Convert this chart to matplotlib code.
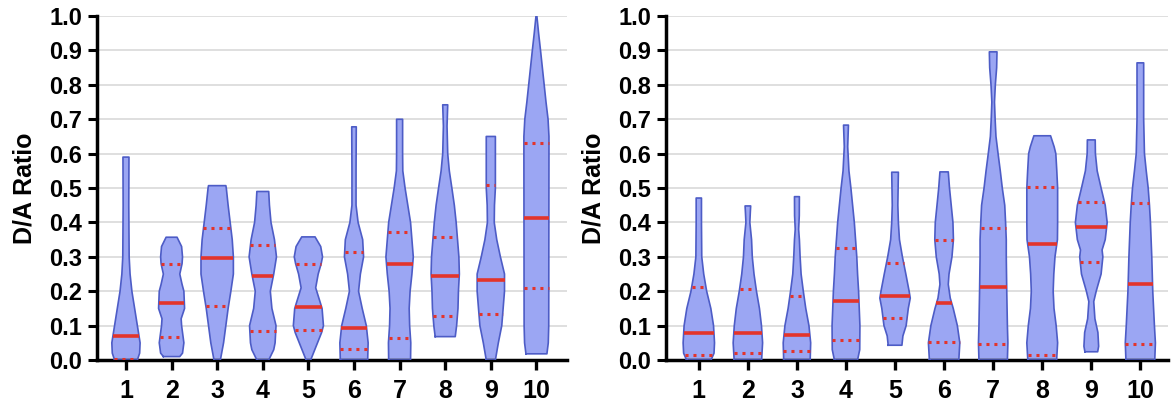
import matplotlib.pyplot as plt
import numpy as np

groups = [1, 2, 3, 4, 5, 6, 7, 8, 9, 10]

# violin outlines: (y, half width) from bottom to top
left_shapes = [
    [(0.0, 0.25), (0.02, 0.30), (0.05, 0.31), (0.1, 0.25), (0.15, 0.19), (0.2, 0.13),
     (0.25, 0.09), (0.3, 0.07), (0.45, 0.062), (0.59, 0.066)],
    [(0.01, 0.18), (0.02, 0.24), (0.05, 0.27), (0.1, 0.22), (0.12, 0.21), (0.15, 0.285),
     (0.2, 0.27), (0.22, 0.23), (0.25, 0.18), (0.28, 0.23), (0.3, 0.24), (0.33, 0.22),
     (0.357, 0.12)],
    [(0.0, 0.07), (0.05, 0.14), (0.1, 0.19), (0.15, 0.24), (0.2, 0.30), (0.25, 0.355),
     (0.3, 0.355), (0.35, 0.33), (0.4, 0.285), (0.45, 0.24), (0.5, 0.2), (0.507, 0.19)],
    [(0.0, 0.13), (0.03, 0.24), (0.05, 0.27), (0.1, 0.29), (0.15, 0.2), (0.2, 0.165),
     (0.25, 0.24), (0.3, 0.30), (0.35, 0.256), (0.4, 0.18), (0.45, 0.146), (0.49, 0.13)],
    [(0.0, 0.05), (0.02, 0.11), (0.05, 0.2), (0.08, 0.29), (0.1, 0.33), (0.15, 0.30),
     (0.18, 0.23), (0.21, 0.16), (0.25, 0.215), (0.28, 0.28), (0.3, 0.31), (0.33, 0.27),
     (0.358, 0.146)],
    [(0.0, 0.30), (0.05, 0.31), (0.1, 0.27), (0.15, 0.18), (0.2, 0.10), (0.25, 0.14),
     (0.3, 0.21), (0.35, 0.19), (0.4, 0.09), (0.45, 0.045), (0.55, 0.045), (0.678, 0.05)],
    [(0.0, 0.24), (0.05, 0.245), (0.1, 0.22), (0.15, 0.21), (0.2, 0.23), (0.25, 0.27),
     (0.3, 0.30), (0.35, 0.27), (0.4, 0.24), (0.45, 0.18), (0.5, 0.12), (0.55, 0.07),
     (0.6, 0.066), (0.70, 0.066)],
    [(0.068, 0.22), (0.1, 0.25), (0.15, 0.28), (0.2, 0.29), (0.25, 0.31), (0.3, 0.30),
     (0.35, 0.27), (0.4, 0.24), (0.45, 0.2), (0.5, 0.146), (0.55, 0.09), (0.6, 0.055),
     (0.68, 0.04), (0.742, 0.055)],
    [(0.0, 0.10), (0.05, 0.165), (0.1, 0.24), (0.15, 0.27), (0.2, 0.30), (0.25, 0.30),
     (0.3, 0.21), (0.35, 0.13), (0.4, 0.075), (0.45, 0.08), (0.5, 0.1), (0.65, 0.10)],
    [(0.018, 0.23), (0.05, 0.26), (0.1, 0.27), (0.6, 0.275), (0.65, 0.275), (0.7, 0.255),
     (0.75, 0.21), (0.8, 0.17), (0.85, 0.13), (0.9, 0.09), (0.95, 0.048), (1.0, 0.01)],
]
left_median = [0.07, 0.167, 0.296, 0.244, 0.155, 0.093, 0.278, 0.244, 0.233, 0.412]
left_q1 = [0.003, 0.066, 0.157, 0.083, 0.087, 0.032, 0.063, 0.128, 0.133, 0.208]
left_q3 = [None, 0.279, 0.383, 0.334, 0.278, 0.315, 0.371, 0.358, 0.509, 0.632]

right_shapes = [
    [(0.0, 0.25), (0.02, 0.31), (0.05, 0.32), (0.1, 0.30), (0.15, 0.245), (0.2, 0.16),
     (0.25, 0.10), (0.3, 0.06), (0.4, 0.054), (0.471, 0.054)],
    [(0.0, 0.28), (0.05, 0.30), (0.1, 0.277), (0.15, 0.236), (0.2, 0.175), (0.25, 0.125),
     (0.3, 0.09), (0.35, 0.075), (0.4, 0.04), (0.43, 0.05), (0.448, 0.057)],
    [(0.0, 0.27), (0.05, 0.28), (0.1, 0.245), (0.15, 0.18), (0.2, 0.13), (0.25, 0.085),
     (0.3, 0.065), (0.35, 0.05), (0.38, 0.035), (0.42, 0.048), (0.475, 0.05)],
    [(0.0, 0.236), (0.03, 0.28), (0.1, 0.284), (0.15, 0.27), (0.2, 0.257), (0.25, 0.236),
     (0.3, 0.22), (0.35, 0.195), (0.4, 0.17), (0.45, 0.135), (0.5, 0.10), (0.55, 0.06),
     (0.62, 0.035), (0.683, 0.05)],
    [(0.043, 0.14), (0.07, 0.16), (0.1, 0.226), (0.15, 0.27), (0.18, 0.31), (0.2, 0.287),
     (0.25, 0.22), (0.3, 0.15), (0.35, 0.09), (0.4, 0.068), (0.45, 0.057), (0.546, 0.068)],
    [(0.0, 0.30), (0.05, 0.32), (0.1, 0.27), (0.15, 0.186), (0.18, 0.125), (0.22, 0.085),
     (0.25, 0.10), (0.3, 0.16), (0.35, 0.19), (0.4, 0.18), (0.45, 0.145), (0.5, 0.11),
     (0.547, 0.085)],
    [(0.0, 0.29), (0.05, 0.30), (0.1, 0.29), (0.2, 0.277), (0.3, 0.267), (0.35, 0.267),
     (0.4, 0.253), (0.45, 0.236), (0.5, 0.186), (0.55, 0.145), (0.6, 0.10), (0.65, 0.057),
     (0.7, 0.04), (0.75, 0.027), (0.8, 0.044), (0.85, 0.071), (0.896, 0.078)],
    [(0.0, 0.294), (0.05, 0.314), (0.1, 0.284), (0.15, 0.24), (0.2, 0.223), (0.25, 0.236),
     (0.3, 0.26), (0.35, 0.31), (0.4, 0.314), (0.5, 0.314), (0.55, 0.297), (0.6, 0.277),
     (0.62, 0.243), (0.652, 0.17)],
    [(0.024, 0.13), (0.04, 0.15), (0.08, 0.135), (0.12, 0.074), (0.17, 0.05), (0.2, 0.10),
     (0.25, 0.2), (0.3, 0.236), (0.32, 0.22), (0.35, 0.284), (0.4, 0.324), (0.45, 0.284),
     (0.5, 0.2), (0.55, 0.12), (0.6, 0.084), (0.64, 0.08)],
    [(0.0, 0.294), (0.05, 0.307), (0.1, 0.287), (0.2, 0.253), (0.3, 0.233), (0.4, 0.206),
     (0.45, 0.186), (0.5, 0.16), (0.55, 0.12), (0.6, 0.084), (0.7, 0.068), (0.864, 0.068)],
]
right_median = [0.078, 0.079, 0.072, 0.172, 0.186, 0.165, 0.213, 0.336, 0.388, 0.221]
right_q1 = [0.0136, 0.021, 0.027, 0.058, 0.121, 0.051, 0.0465, 0.0145, 0.286, 0.047]
right_q3 = [0.211, 0.206, 0.187, 0.325, 0.283, 0.349, 0.385, 0.504, 0.46, 0.457]

FILL = '#9ba6f3'
EDGE = '#4d5cc6'
RED = '#e3342b'

plt.rcParams['font.family'] = ['Liberation Sans', 'DejaVu Sans']
plt.rcParams['font.weight'] = 'bold'


def draw_panel(ax, shapes, med, q1, q3, xlim):
    ax.set_axisbelow(True)
    ax.yaxis.grid(True, color='#d9d9d9', lw=1.2)
    for x, shape, m, a, b in zip(groups, shapes, med, q1, q3):
        ys = np.array([p[0] for p in shape])
        ws = np.array([p[1] for p in shape])
        ax.fill_betweenx(ys, x - ws, x + ws, facecolor=FILL, edgecolor='none', zorder=2)
        outline_x = np.concatenate([x - ws, (x + ws)[::-1], [x - ws[0]]])
        outline_y = np.concatenate([ys, ys[::-1], [ys[0]]])
        ax.plot(outline_x, outline_y, color=EDGE, lw=1.2, zorder=3)
        w = np.interp(m, ys, ws)
        ax.plot([x - w, x + w], [m, m], color=RED, lw=2.6, zorder=4,
                solid_capstyle='butt')
        for q in (a, b):
            if q is None:
                continue
            w = np.interp(q, ys, ws)
            ax.plot([x - w, x + w], [q, q], color=RED, lw=2.2, zorder=4,
                    linestyle=(0, (1, 1.6)))
    ax.set_xlim(*xlim)
    ax.set_ylim(0, 1.0)
    ax.set_yticks(np.arange(0, 1.01, 0.1))
    ax.set_yticklabels([f'{v:.1f}' for v in np.arange(0, 1.01, 0.1)])
    ax.set_xticks(groups)
    ax.set_xticklabels([str(g) for g in groups])
    ax.tick_params(axis='y', labelsize=17, width=2.2, length=6.5, pad=4)
    ax.tick_params(axis='x', labelsize=18, width=2.4, length=7.5, pad=6)
    for s in ('top', 'right'):
        ax.spines[s].set_visible(False)
    for s in ('left', 'bottom'):
        ax.spines[s].set_linewidth(2.5)
    ax.set_ylabel('D/A Ratio', fontsize=18, fontweight='bold', labelpad=9)


fig = plt.figure(figsize=(11.71, 4.08), dpi=100)
ax1 = fig.add_axes([0.0828, 0.1176, 0.401, 0.843])
ax2 = fig.add_axes([0.5687, 0.1176, 0.429, 0.843])
draw_panel(ax1, left_shapes, left_median, left_q1, left_q3, (0.364, 10.66))
draw_panel(ax2, right_shapes, right_median, right_q1, right_q3, (0.33, 10.57))

fig.savefig('out.png', dpi=100)
